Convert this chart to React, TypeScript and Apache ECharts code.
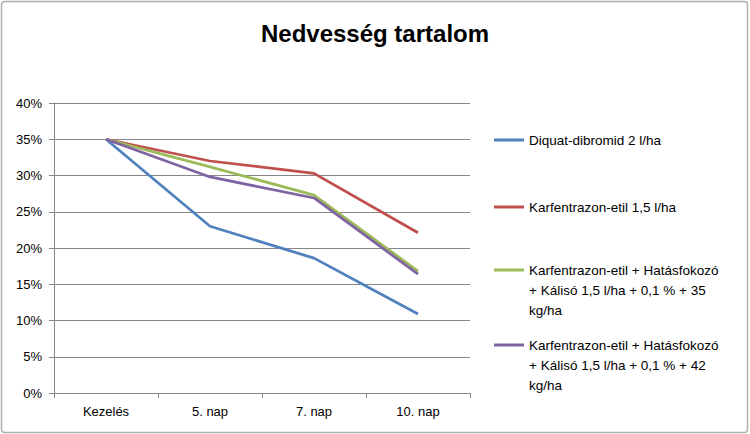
import React, { useEffect, useRef } from "react";
import * as echarts from "echarts";

const categories = ["Kezelés", "5. nap", "7. nap", "10. nap"];
const seriesNames = [
  "Diquat-dibromid 2 l/ha",
  "Karfentrazon-etil 1,5 l/ha",
  "Karfentrazon-etil + Hatásfokozó + Kálisó 1,5 l/ha + 0,1 % + 35 kg/ha",
  "Karfentrazon-etil + Hatásfokozó + Kálisó 1,5 l/ha + 0,1 % + 42 kg/ha",
];
const diquat = [0.35, 0.23, 0.186, 0.109];
const karf = [0.35, 0.32, 0.303, 0.221];
const karf35 = [0.35, 0.312, 0.273, 0.168];
const karf42 = [0.35, 0.298, 0.269, 0.164];
const colors = ["#4F81BD", "#C0504D", "#9BBB59", "#8064A2"];
const legendLabels = [
  "Diquat-dibromid 2 l/ha",
  "Karfentrazon-etil 1,5 l/ha",
  "\n\nKarfentrazon-etil + Hatásfokozó\n+ Kálisó 1,5 l/ha + 0,1 % + 35\nkg/ha",
  "\n\nKarfentrazon-etil + Hatásfokozó\n+ Kálisó 1,5 l/ha + 0,1 % + 42\nkg/ha",
];
const legendTops = [130, 197, 220, 295];

export default function App() {
  const ref = useRef<HTMLDivElement>(null);
  useEffect(() => {
    if (!ref.current) return;
    const chart = echarts.init(ref.current, null, { renderer: "svg" });
    const font = "'Liberation Sans', Arial, sans-serif";
    const data = [diquat, karf, karf35, karf42];
    chart.setOption({
      animation: false,
      backgroundColor: "#fff",
      textStyle: { fontFamily: font },
      title: {
        text: "Nedvesség tartalom",
        left: "center",
        top: 16,
        textStyle: { fontSize: 24, fontWeight: "bold", color: "#000", fontFamily: font },
      },
      graphic: [
        {
          type: "rect",
          shape: { x: 1.5, y: 1.5, width: 746, height: 431, r: 3 },
          style: { fill: "none", stroke: "#b0b0b0", lineWidth: 1.5 },
          silent: true,
        },
      ],
      legend: seriesNames.map((n, i) => ({
        data: [n],
        orient: "vertical",
        left: 494,
        top: legendTops[i],
        padding: 0,
        icon: "rect",
        itemWidth: 30,
        itemHeight: 3,
        selectedMode: false,
        formatter: () => legendLabels[i],
        textStyle: {
          fontSize: 13.5,
          color: "#000",
          lineHeight: 20,
          fontFamily: font,
        },
      })),
      grid: { left: 54, right: 280, top: 103, bottom: 41, containLabel: false },
      xAxis: {
        type: "category",
        data: categories,
        boundaryGap: true,
        axisLine: { lineStyle: { color: "#868686", width: 1 } },
        axisTick: { show: true, length: 5, alignWithLabel: false, lineStyle: { color: "#868686" } },
        axisLabel: { color: "#000", fontSize: 13, margin: 12, fontFamily: font },
      },
      yAxis: {
        type: "value",
        min: 0,
        max: 0.4,
        interval: 0.05,
        axisLine: { show: true, lineStyle: { color: "#868686", width: 1 } },
        axisTick: { show: true, length: 5, lineStyle: { color: "#868686" } },
        axisLabel: {
          color: "#000",
          fontSize: 13,
          margin: 12,
          fontFamily: font,
          formatter: (v: number) => Math.round(v * 100) + "%",
        },
        splitLine: { show: true, lineStyle: { color: "#868686", width: 1 } },
      },
      series: seriesNames.map((n, i) => ({
        name: n,
        type: "line",
        data: data[i],
        showSymbol: false,
        symbol: "none",
        color: colors[i],
        lineStyle: { color: colors[i], width: 2.75 },
      })),
    });
    return () => chart.dispose();
  }, []);
  return (
    <div
      ref={ref}
      style={{ position: "absolute", left: 0, top: 0, width: 750, height: 434 }}
    />
  );
}
